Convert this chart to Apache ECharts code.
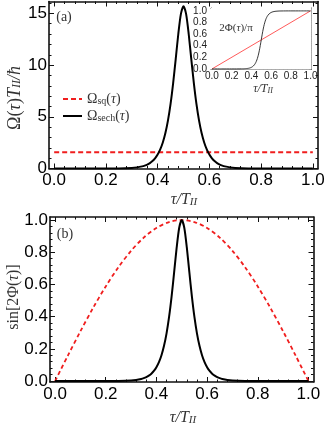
<!DOCTYPE html>
<html>
<head>
<meta charset="utf-8">
<script src="https://cdn.jsdelivr.net/npm/echarts@6/dist/echarts.min.js"></script>
<style>html,body{margin:0;padding:0;background:#fff;}#c{width:328px;height:426px;}</style>
</head>
<body>
<div id="c"></div>
<script>
// ---- data ----
const tau = [0, 0.1, 0.2, 0.25, 0.3, 0.32, 0.34,
  0.35, 0.36, 0.37, 0.38, 0.39, 0.40, 0.41, 0.42, 0.43, 0.44, 0.45, 0.46, 0.47, 0.48, 0.49,
  0.50,
  0.51, 0.52, 0.53, 0.54, 0.55, 0.56, 0.57, 0.58, 0.59, 0.60, 0.61, 0.62, 0.63, 0.64, 0.65,
  0.66, 0.68, 0.70, 0.75, 0.80, 0.90, 1.0];
// panel (a): Omega_sech(tau) T_II / hbar
const omegaSech = [0, 0, 0.002, 0.012, 0.058, 0.109, 0.205,
  0.281, 0.384, 0.527, 0.721, 0.987, 1.35, 1.85, 2.52, 3.43, 4.65, 6.25, 8.26, 10.61, 13.03, 14.95,
  15.70,
  14.95, 13.03, 10.61, 8.26, 6.25, 4.65, 3.43, 2.52, 1.85, 1.35, 0.987, 0.721, 0.527, 0.384, 0.281,
  0.205, 0.109, 0.058, 0.012, 0.002, 0, 0];
const tauSq = [0, 1];
const omegaSq = [1.571, 1.571];
// panel (b): sin[2 Phi(tau)]
const sinPhiSech = [0, 0, 0.0002, 0.0008, 0.0037, 0.0070, 0.0131,
  0.0179, 0.0245, 0.0336, 0.0459, 0.0629, 0.0860, 0.1176, 0.1605, 0.2187, 0.2963, 0.398, 0.526, 0.676, 0.830, 0.9525,
  1.0,
  0.9525, 0.830, 0.676, 0.526, 0.398, 0.2963, 0.2187, 0.1605, 0.1176, 0.0860, 0.0629, 0.0459, 0.0336, 0.0245, 0.0179,
  0.0131, 0.0070, 0.0037, 0.0008, 0.0002, 0, 0];
const tauB = [0, 0.05, 0.1, 0.15, 0.2, 0.25, 0.3, 0.35, 0.4, 0.45, 0.5, 0.55, 0.6, 0.65, 0.7, 0.75, 0.8, 0.85, 0.9, 0.95, 1.0];
const sinPhiSq = [0, 0.1564, 0.309, 0.454, 0.5878, 0.7071, 0.809, 0.891, 0.9511, 0.9877, 1.0,
  0.9877, 0.9511, 0.891, 0.809, 0.7071, 0.5878, 0.454, 0.309, 0.1564, 0];
// inset: 2 Phi(tau) / pi
const phiSech = [0, 0, 0, 0.0002, 0.0012, 0.0022, 0.0042,
  0.0057, 0.0078, 0.0107, 0.0146, 0.020, 0.0274, 0.0376, 0.0513, 0.0702, 0.0958, 0.1304, 0.1763, 0.2363, 0.312, 0.4013,
  0.5,
  0.5987, 0.688, 0.7637, 0.8237, 0.8696, 0.9042, 0.9298, 0.9487, 0.9624, 0.9726, 0.980, 0.9854, 0.9893, 0.9922, 0.9943,
  0.9958, 0.9978, 0.9988, 0.9998, 1, 1, 1];
const phiSq = [0, 1];
// ticks
const ticksX = [0, 0.2, 0.4, 0.6, 0.8, 1.0];
const ticksYa = [0, 5, 10, 15];
const ticksYb = [0, 0.2, 0.4, 0.6, 0.8, 1.0];

// ---- helpers ----
function minorList(min, max, step, majors) {
  const out = [];
  const n0 = Math.ceil(min / step - 1e-9), n1 = Math.floor(max / step + 1e-9);
  for (let k = n0; k <= n1; k++) {
    const v = +(k * step).toFixed(6);
    if (!majors.some(m => Math.abs(m - v) < 1e-9)) out.push(v);
  }
  return out;
}
function frame(dim, gridIndex, min, max, majors, minorStep, o) {
  const pos = dim === 'x' ? ['bottom', 'top'] : ['left', 'right'];
  const minors = minorList(min, max, minorStep, majors);
  const lineColor = o.color;
  const base = {
    type: 'value', gridIndex, min, max, scale: true,
    splitLine: { show: false }, splitArea: { show: false },
    minorTick: { show: false }
  };
  const mk = (p, vals, len, withLine, withLabel) => Object.assign({}, base, {
    position: p,
    axisLine: { show: withLine, onZero: false, lineStyle: { color: lineColor, width: o.lineWidth } },
    axisTick: { show: true, inside: true, length: len, customValues: vals, lineStyle: { color: lineColor, width: o.tickWidth } },
    axisLabel: withLabel ? {
      show: true, customValues: majors, margin: o.margin,
      fontFamily: 'Liberation Sans', fontSize: o.fontSize, color: o.labelColor,
      formatter: o.fmt
    } : { show: false }
  });
  return [
    mk(pos[0], majors, o.major, true, true),
    mk(pos[0], minors, o.minor, false, false),
    mk(pos[1], majors, o.major, true, false),
    mk(pos[1], minors, o.minor, false, false)
  ];
}
const f1 = v => v.toFixed(1);
const f0 = v => String(Math.round(v));
const mainStyle = { color: '#111', lineWidth: 1.6, tickWidth: 1, major: 5, minor: 2.5, fontSize: 17, labelColor: '#000' };
const insetStyle = { color: '#333', lineWidth: 0.8, tickWidth: 0.6, major: 2.5, minor: 1.2, fontSize: 10, labelColor: '#222' };

const xAxes = [].concat(
  frame('x', 0, -0.02, 1.02, ticksX, 0.04, Object.assign({}, mainStyle, { margin: 3, fmt: f1 })),
  frame('x', 1, -0.02, 1.02, ticksX, 0.04, Object.assign({}, mainStyle, { margin: 4, fmt: f1 })),
  frame('x', 2, -0.01, 1.01, ticksX, 0.04, Object.assign({}, insetStyle, { margin: 2, fmt: f1 }))
);
const yAxes = [].concat(
  frame('y', 0, 0, 16.15, ticksYa, 1, Object.assign({}, mainStyle, { margin: 2, fmt: f0 })),
  frame('y', 1, -0.006, 1.019, ticksYb, 0.04, Object.assign({}, mainStyle, { margin: 2, fmt: f1 })),
  frame('y', 2, -0.01, 1.05, ticksYb, 0.04, Object.assign({}, insetStyle, { margin: 4, fmt: f1 }))
);

const zip = (xs, ys) => xs.map((x, i) => [x, ys[i]]);
const serif = 'Liberation Serif';
function richSet(size) {
  return {
    n: { fontFamily: serif, fontSize: size, color: '#333' },
    i: { fontFamily: serif, fontSize: size, fontStyle: 'italic', color: '#333' },
    s: { fontFamily: serif, fontSize: Math.round(size * 0.68), color: '#333', padding: [0, 0, -4, 0] },
    si: { fontFamily: serif, fontSize: Math.round(size * 0.68), fontStyle: 'italic', color: '#333', padding: [0, 0, -4, 0] }
  };
}
function gtext(x, y, text, size, rot, align) {
  return {
    type: 'text', x, y, rotation: rot || 0, z: 100,
    style: { text, rich: richSet(size), align: align || 'center', verticalAlign: 'middle', fontFamily: serif, fontSize: size, fill: '#333' }
  };
}

const option = {
  animation: false,
  backgroundColor: '#fff',
  grid: [
    { left: 49, top: 1.5, width: 269, height: 167, containLabel: false },
    { left: 50, top: 217, width: 263.5, height: 165, containLabel: false },
    { left: 211, top: 8, width: 100.5, height: 61.5, containLabel: false, show: true, backgroundColor: '#fff', borderWidth: 0, z: 5 }
  ],
  xAxis: xAxes,
  yAxis: yAxes,
  legend: {
    show: true, orient: 'vertical', left: 57, top: 87, itemWidth: 19, itemHeight: 10, itemGap: 3,
    data: ['sq', 'sech'],
    itemStyle: { opacity: 0 },
    formatter: name => name === 'sq' ? '{n|Ω}{s|sq}{n|(}{i|τ}{n|)}' : '{n|Ω}{s|sech}{n|(}{i|τ}{n|)}',
    textStyle: { rich: richSet(14), fontFamily: serif, fontSize: 14, color: '#333' }
  },
  series: [
    { name: 'sq', type: 'line', xAxisIndex: 0, yAxisIndex: 0, data: zip(tauSq, omegaSq), symbol: 'none',
      lineStyle: { color: '#f01e1e', width: 2, type: [5, 3] }, itemStyle: { color: '#f01e1e', opacity: 0 } },
    { name: 'sech', type: 'line', xAxisIndex: 0, yAxisIndex: 0, data: zip(tau, omegaSech), symbol: 'none', smooth: 0.25,
      lineStyle: { color: '#000', width: 2 }, itemStyle: { color: '#000', opacity: 0 } },
    { name: 'b-sq', type: 'line', xAxisIndex: 4, yAxisIndex: 4, data: zip(tauB, sinPhiSq), symbol: 'none', smooth: 0.3,
      lineStyle: { color: '#f01e1e', width: 1.8, type: [4, 3] } },
    { name: 'b-sech', type: 'line', xAxisIndex: 4, yAxisIndex: 4, data: zip(tau, sinPhiSech), symbol: 'none', smooth: 0.25,
      lineStyle: { color: '#000', width: 2 } },
    { name: 'i-sq', type: 'line', xAxisIndex: 8, yAxisIndex: 8, data: zip(tauSq, phiSq), symbol: 'none', z: 6,
      lineStyle: { color: '#ff3030', width: 0.8 } },
    { name: 'i-sech', type: 'line', xAxisIndex: 8, yAxisIndex: 8, data: zip(tau, phiSech), symbol: 'none', smooth: 0.25, z: 6,
      lineStyle: { color: '#222', width: 0.9 } }
  ],
  graphic: [
    gtext(64, 17, '{n|(a)}', 14),
    gtext(65, 234, '{n|(b)}', 14),
    gtext(184, 200, '{i|τ/T}{si|II}', 16),
    gtext(183, 418, '{i|τ/T}{si|II}', 16),
    gtext(15, 98, '{n|Ω(}{i|τ}{n|)}{i|T}{si|II}{i|/ħ}', 18, Math.PI / 2),
    gtext(14, 297, '{n|sin[2Φ(}{i|τ}{n|)]}', 16, Math.PI / 2),
    gtext(236, 28, '{n|2Φ(}{i|τ}{n|)/π}', 11),
    gtext(263, 89, '{i|τ/T}{si|II}', 12)
  ]
};
const chart = echarts.init(document.getElementById('c'), null, { renderer: 'canvas', width: 328, height: 426 });
chart.setOption(option);
</script>
</body>
</html>
